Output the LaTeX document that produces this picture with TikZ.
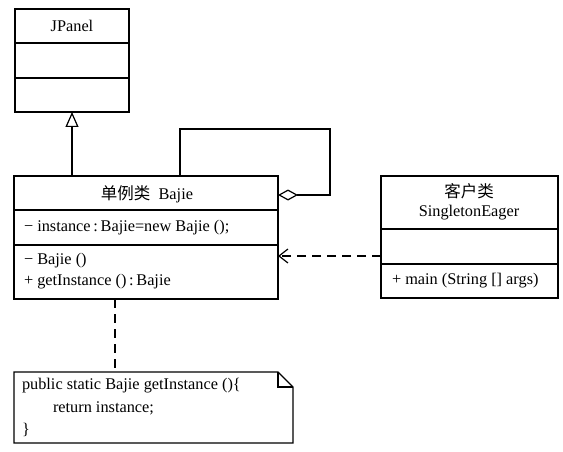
\documentclass[tikz,border=0pt]{standalone}
\usepackage{fontspec}
\setmainfont{Liberation Serif}
\newfontfamily\cjk{Noto Sans CJK SC}
\usetikzlibrary{arrows.meta,calc}
\begin{document}
\begin{tikzpicture}[x=1pt,y=-1pt,
  line width=1.2pt,
  box/.style={draw,rectangle,inner sep=0pt,outer sep=0pt},
  txt/.style={inner sep=0pt,outer sep=0pt,font=\fontsize{16.3}{19}\selectfont},
  ltxt/.style={txt,anchor=west},
  dsh/.style={dash pattern=on 9pt off 6pt}]
\useasboundingbox[fill=white] (0,0) rectangle (563,452);
% JPanel
\node[box,minimum width=114pt,minimum height=103pt] (jp) at (72,60.5) {};
\draw (jp.west |- 0,43) -- (jp.east |- 0,43);
\draw (jp.west |- 0,78) -- (jp.east |- 0,78);
\node[txt] (jpt) at (72,26) {JPanel};
% Bajie
\node[box,minimum width=264pt,minimum height=123pt] (bj) at (146,237.5) {};
\draw (bj.west |- 0,210) -- (bj.east |- 0,210);
\draw (bj.west |- 0,245) -- (bj.east |- 0,245);
\node[txt] (bjt) at (147,194) {{\cjk\fontsize{16.5}{19}\selectfont 单例类}\ \ Bajie};
\node[ltxt] (bja) at (24,228) {− instance\,:\,Bajie=new Bajie ();};
\node[ltxt] (bjm1) at (24,261) {− Bajie ()};
\node[ltxt] (bjm2) at (24,282) {+ getInstance ()\,:\,Bajie};
% Client
\node[box,minimum width=177pt,minimum height=122pt] (cl) at (469.5,237) {};
\draw (cl.west |- 0,229) -- (cl.east |- 0,229);
\draw (cl.west |- 0,264) -- (cl.east |- 0,264);
\node[txt] (clt1) at (469,191) {\cjk\fontsize{16.5}{19}\selectfont 客户类};
\node[txt] (clt2) at (469,213) {SingletonEager};
\node[ltxt] (clm) at (392,281) {+ main (String [] args)};
% Note
\node[minimum width=279pt,minimum height=71pt,inner sep=0pt,outer sep=0pt] (note) at (153.5,407.5) {};
\draw (note.north west) -- ([xshift=-15pt]note.north east) -- ([yshift=-15pt]note.north east) -- (note.south east) -- (note.south west) -- cycle;
\draw ([xshift=-15pt]note.north east) |- ([yshift=-15pt]note.north east);
\node[ltxt] (n1) at (22,386) {public static Bajie getInstance ()\{};
\node[ltxt] (n2) at (53,408) {return instance;};
\node[ltxt] (n3) at (22,430) {\}};
% connectors
\draw[-{Triangle[open,length=15pt,width=13pt]}] (bj.north -| jp.south) -- (jp.south);
\draw[-{Diamond[open,length=20pt,width=11pt]}] (bj.north -| 180,0) |- (330,129) |- (bj.east |- 0,195);
\draw[dsh,-{Straight Barb[length=9pt,width=14pt]}] (cl.west |- 0,256) -- (bj.east |- 0,256);
\draw[dsh] (bj.south -| 115,0) -- (note.north -| 115,0);
\end{tikzpicture}
\end{document}
